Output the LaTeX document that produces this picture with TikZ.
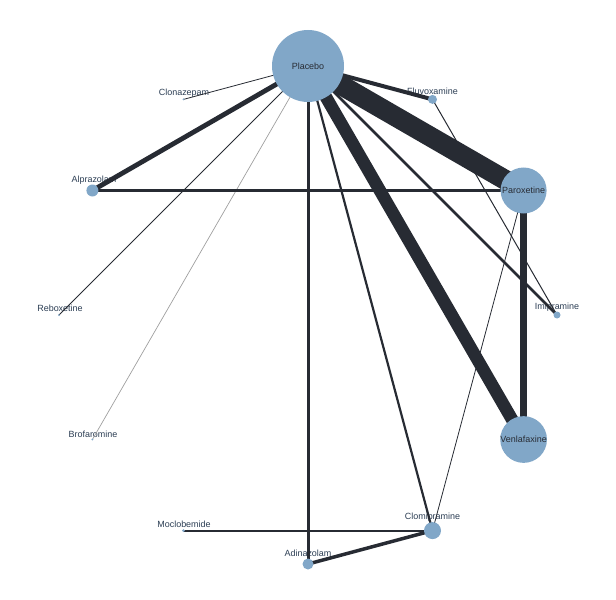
\documentclass[tikz,border=0pt]{standalone}
\usepackage{fontspec}
\setmainfont{Liberation Sans}
\definecolor{nodeblue}{RGB}{129,167,200}
\definecolor{edgedark}{RGB}{39,43,51}
\definecolor{labcol}{RGB}{44,62,84}
\definecolor{placcol}{RGB}{40,44,52}
\pgfdeclarelayer{bg}
\pgfsetlayers{bg,main}
\tikzset{
  drug/.style={circle, fill=nodeblue, draw=none, inner sep=0pt, minimum size=#1},
  lab/.style={font=\fontsize{9}{10}\selectfont, text=labcol, inner sep=0pt, anchor=center},
  biglab/.style={font=\fontsize{9}{10}\selectfont, text=placcol},
  edge/.style={draw=edgedark, line width=#1, line cap=butt},
  greyedge/.style={draw=gray!75, line width=#1, line cap=butt}
}
\begin{document}
\begin{tikzpicture}[x=1bp,y=-1bp]
\useasboundingbox (0,0) rectangle (616,600);
% nodes
\node[drug=72bp, biglab] (plac) at (308,66) {Placebo};
\node[drug=9bp] (fluv) at (432.5,99.4) {};
\node[drug=46bp, biglab] (parox) at (523.6,190.5) {Paroxetine};
\node[drug=7bp] (imip) at (557,315) {};
\node[drug=26bp, biglab] (venla) at (523.6,439.5) {Venlafaxine};
\node[drug=17bp] (clomi) at (432.5,530.6) {};
\node[drug=11bp] (adina) at (308,564) {};
\node[drug=3bp] (moclo) at (183.5,530.6) {};
\node[drug=2bp] (brofa) at (92.4,439.5) {};
\node[drug=2bp] (rebox) at (59,315) {};
\node[drug=12bp] (alpra) at (92.4,190.5) {};
\node[drug=2bp] (clona) at (183.5,99.4) {};
\begin{pgfonlayer}{bg}
% labels of small nodes
\node[lab] (lfluv) at (432.5,91) {Fluvoxamine};
\node[lab] (limip) at (557,307) {Imipramine};
\node[lab] (lclomi) at (432.5,517) {Clomipramine};
\node[lab] (ladina) at (308,553) {Adinazolam};
\node[lab] (lmoclo) at (184,524) {Moclobemide};
\node[lab] (lbrofa) at (93,434) {Brofaromine};
\node[lab] (lrebox) at (60,308.5) {Reboxetine};
\node[lab] (lalpra) at (94,180) {Alprazolam};
\node[lab] (lclona) at (184,93) {Clonazepam};
% edges
\draw[edge=0.8bp] (plac.center) -- (clona.center);
\draw[edge=4bp] (plac.center) -- (fluv.center);
\draw[edge=20bp] (plac.center) -- (parox.center);
\draw[edge=4.8bp] (plac.center) -- (alpra.center);
\draw[edge=0.8bp] (plac.center) -- (rebox.center);
\draw[greyedge=0.7bp] (plac.center) -- (brofa.center);
\draw[edge=3bp] (plac.center) -- (adina.center);
\draw[edge=2.2bp] (plac.center) -- (clomi.center);
\draw[edge=12.5bp] (plac.center) -- (venla.center);
\draw[edge=2.5bp] (plac.center) -- (imip.center);
\draw[edge=2.5bp] (alpra.center) -- (parox.center);
\draw[edge=1bp] (fluv.center) -- (imip.center);
\draw[edge=7bp] (parox.center) -- (venla.center);
\draw[edge=0.8bp] (parox.center) -- (clomi.center);
\draw[edge=2bp] (moclo.center) -- (clomi.center);
\draw[edge=3.5bp] (adina.center) -- (clomi.center);
\end{pgfonlayer}
\end{tikzpicture}
\end{document}
